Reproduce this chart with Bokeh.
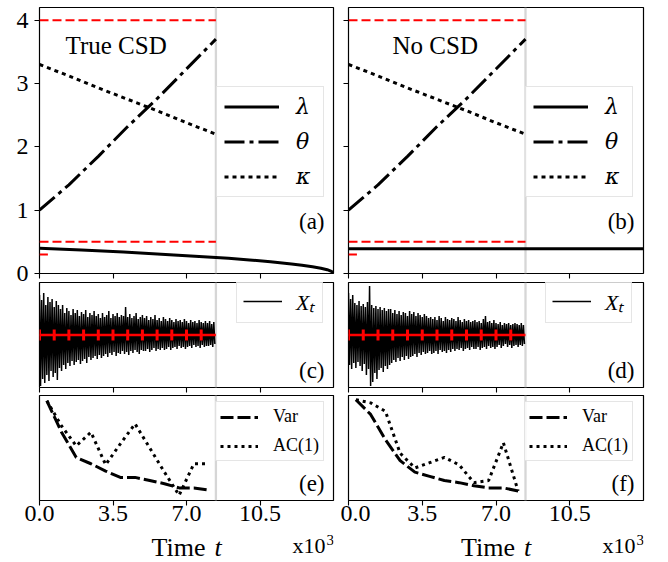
import math
from bokeh.plotting import figure
from bokeh.models import (Range1d, FixedTicker, PrintfTickFormatter, Span, Label,
                          CustomLabelingPolicy)
from bokeh.layouts import gridplot
from bokeh.embed import file_html
from bokeh.resources import INLINE

FONT = "Liberation Serif"
GREEK_FONT = "DejaVu Serif"

# ---------------- data ----------------
x_ticks = [0.0, 3.5, 7.0, 10.5]
x_tick_fmt = "%.1f"
y_ticks_top = [0, 1, 2, 3, 4]
cutoff_t = 8.4          # end of observed series (x10^3)
t_max = 14.0
x_label_word = "Time"
x_label_sym = "t"
x_scale_base = "x10"
x_scale_exp = "3"

panel_titles = ["True CSD", "No CSD"]
panel_tags = ["(a)", "(b)", "(c)", "(d)", "(e)", "(f)"]

# parameter trajectories (top row)
param_t = [0.0, 1.4, 2.8, 4.2, 5.6, 7.0, 8.4]
theta = [1.00, 1.40, 1.85, 2.32, 2.76, 3.23, 3.70]
kappa = [3.30, 3.12, 2.93, 2.75, 2.57, 2.38, 2.20]
lam_t_a = [0.0, 2.0, 4.0, 6.0, 8.0, 9.0, 10.0, 11.0, 12.0, 12.5, 13.0, 13.4, 13.7, 13.9, 14.0]
lam_a = [0.40, 0.37, 0.34, 0.30, 0.26, 0.24, 0.215, 0.185, 0.15, 0.13, 0.105, 0.083, 0.06, 0.035, 0.0]
lam_t_b = [0.0, 14.0]
lam_b = [0.39, 0.39]
bound_t = [0.0, 8.4]
bound_hi = [4.0, 4.0]
bound_lo = [0.5, 0.5]
short_t = [0.0, 0.4]
short_y = [0.3, 0.3]

# observed series X_t (upper / lower excursions per 0.1 x10^3)
xt_up_c = [0.80,0.70,0.84,0.60,0.76,0.66,0.72,0.56,0.68,0.60,
           0.52,0.60,0.44,0.54,0.48,0.40,0.52,0.44,0.50,0.38,
           0.46,0.42,0.50,0.36,0.44,0.40,0.48,0.38,0.42,0.34,
           0.44,0.36,0.40,0.48,0.34,0.42,0.38,0.44,0.36,0.40,
           0.38,0.56,0.36,0.42,0.34,0.38,0.44,0.32,0.36,0.40,
           0.34,0.38,0.30,0.36,0.32,0.40,0.30,0.34,0.28,0.36,
           0.32,0.28,0.34,0.30,0.26,0.32,0.28,0.30,0.26,0.32,
           0.28,0.24,0.30,0.26,0.28,0.24,0.30,0.26,0.24,0.28,
           0.24,0.28,0.22,0.26]
xt_lo_c = [-1.02,-0.88,-0.96,-0.80,-0.92,-0.72,-0.84,-0.76,-0.90,-0.66,
           -0.72,-0.60,-0.68,-0.56,-0.62,-0.52,-0.60,-0.54,-0.50,-0.58,
           -0.52,-0.48,-0.56,-0.44,-0.50,-0.46,-0.42,-0.48,-0.40,-0.46,
           -0.42,-0.38,-0.44,-0.36,-0.40,-0.34,-0.42,-0.36,-0.38,-0.32,
           -0.38,-0.34,-0.40,-0.32,-0.36,-0.30,-0.34,-0.38,-0.30,-0.32,
           -0.32,-0.28,-0.34,-0.30,-0.26,-0.32,-0.28,-0.30,-0.26,-0.30,
           -0.28,-0.24,-0.30,-0.26,-0.24,-0.28,-0.22,-0.26,-0.24,-0.28,
           -0.24,-0.22,-0.26,-0.20,-0.24,-0.22,-0.26,-0.20,-0.24,-0.22,
           -0.22,-0.20,-0.24,-0.18]
xt_up_d = [0.84,0.72,0.80,0.64,0.60,0.68,0.58,0.62,0.56,0.66,
           0.98,0.60,0.54,0.58,0.52,0.56,0.50,0.54,0.48,0.52,
           0.52,0.44,0.50,0.42,0.48,0.40,0.46,0.44,0.38,0.48,
           0.42,0.46,0.38,0.44,0.40,0.36,0.42,0.38,0.34,0.36,
           0.32,0.36,0.30,0.38,0.34,0.28,0.36,0.32,0.30,0.34,
           0.32,0.28,0.36,0.30,0.26,0.32,0.28,0.30,0.26,0.28,
           0.30,0.26,0.28,0.24,0.32,0.38,0.26,0.28,0.24,0.30,
           0.24,0.22,0.26,0.20,0.24,0.22,0.24,0.20,0.22,0.24,
           0.22,0.20,0.24,0.20]
xt_lo_d = [-0.60,-0.68,-0.56,-0.66,-0.54,-0.62,-0.72,-0.58,-0.80,-0.68,
           -1.02,-0.94,-0.76,-0.88,-0.70,-0.66,-0.74,-0.62,-0.68,-0.60,
           -0.56,-0.50,-0.54,-0.46,-0.52,-0.44,-0.50,-0.42,-0.48,-0.44,
           -0.42,-0.38,-0.44,-0.36,-0.40,-0.34,-0.38,-0.36,-0.32,-0.38,
           -0.36,-0.32,-0.38,-0.30,-0.34,-0.32,-0.36,-0.30,-0.34,-0.28,
           -0.32,-0.28,-0.30,-0.26,-0.32,-0.28,-0.26,-0.30,-0.24,-0.28,
           -0.28,-0.24,-0.30,-0.26,-0.24,-0.28,-0.22,-0.26,-0.24,-0.28,
           -0.24,-0.20,-0.26,-0.22,-0.18,-0.24,-0.20,-0.26,-0.22,-0.20,
           -0.24,-0.20,-0.22,-0.18]
xt_step = 0.1
mean_t = [0.0, 8.4]
mean_level = [0.0, 0.0]
window_edges = [0.0, 0.7, 1.4, 2.1, 2.8, 3.5, 4.2, 4.9, 5.6, 6.3, 7.0, 7.7]

# rolling indicators (bottom row), window centres
win_t = [0.35, 1.05, 1.75, 2.45, 3.15, 3.85, 4.55, 5.25, 5.95, 6.65, 7.35, 8.05]
var_e = [0.95, 0.65, 0.41, 0.35, 0.28, 0.22, 0.22, 0.19, 0.16, 0.12, 0.12, 0.10]
ac_e = [0.95, 0.71, 0.52, 0.65, 0.34, 0.54, 0.73, 0.50, 0.27, 0.05, 0.35, 0.35]
var_f = [0.96, 0.82, 0.58, 0.38, 0.27, 0.23, 0.19, 0.17, 0.14, 0.12, 0.12, 0.09]
ac_f = [0.96, 0.93, 0.85, 0.45, 0.31, 0.36, 0.41, 0.34, 0.17, 0.19, 0.55, 0.09]


def interleave(up, lo, step):
    ts, vs = [], []
    for i, (u, l) in enumerate(zip(up, lo)):
        ts += [i * step, i * step + step / 2]
        vs += [u, l]
    return ts, vs


# ---------------- layout helpers ----------------
COLS = [dict(width=340, min_border_left=39, min_border_right=7),
        dict(width=327, min_border_left=8, min_border_right=24)]
ROWS = [dict(height=282, min_border_top=7, min_border_bottom=9),
        dict(height=113, min_border_top=0, min_border_bottom=8),
        dict(height=137, min_border_top=0, min_border_bottom=32),
        dict(height=29, min_border_top=0, min_border_bottom=0)]

NO_LABELS = CustomLabelingPolicy(code="for (const i of indices) indices.unset(i); return indices")


def frame_w(col):
    k = COLS[col]
    return k["width"] - k["min_border_left"] - k["min_border_right"]


def base_fig(col, row, yr):
    kw = dict(COLS[col])
    kw.update(ROWS[row])
    p = figure(x_range=Range1d(0, t_max), y_range=Range1d(*yr),
               output_backend="svg", toolbar_location=None, title=None, **kw)
    p.xgrid.visible = False
    p.ygrid.visible = False
    p.background_fill_color = "white"
    p.border_fill_color = "white"
    return p


def make_fig(col, row, yr, show_xlabels=False, yaxis_mode="none"):
    p = base_fig(col, row, yr)
    p.outline_line_color = "black"
    p.outline_line_width = 1.2
    xa = p.xaxis[0]
    xa.ticker = FixedTicker(ticks=x_ticks)
    xa.formatter = PrintfTickFormatter(format=x_tick_fmt)
    xa.axis_line_color = None
    xa.major_tick_out = 5
    xa.major_tick_in = 0
    xa.minor_tick_out = 0
    xa.minor_tick_in = 0
    xa.major_tick_line_color = "black"
    xa.major_tick_line_width = 1.1
    xa.major_label_text_font = FONT
    xa.major_label_text_color = "black"
    if show_xlabels:
        xa.major_label_text_font_size = "24px"
        xa.major_label_standoff = 0
    else:
        xa.major_label_text_font_size = "0px"
        xa.major_label_standoff = 0
        xa.major_label_policy = NO_LABELS
    ya = p.yaxis[0]
    if yaxis_mode == "none":
        ya.visible = False
    else:
        ya.ticker = FixedTicker(ticks=y_ticks_top)
        ya.axis_line_color = None
        ya.major_tick_out = 5
        ya.major_tick_in = 0
        ya.minor_tick_out = 0
        ya.minor_tick_in = 0
        ya.major_tick_line_color = "black"
        ya.major_tick_line_width = 1.1
        ya.major_label_text_font = FONT
        ya.major_label_text_color = "black"
        if yaxis_mode == "labels":
            ya.major_label_text_font_size = "24px"
            ya.major_label_standoff = 6
        else:
            ya.major_label_text_font_size = "0px"
            ya.major_label_standoff = 0
            ya.major_label_policy = NO_LABELS
    p.add_layout(Span(location=cutoff_t, dimension="height", line_color="#d6d6d6",
                      line_width=2.3, level="underlay"))
    return p


def text(p, x, y, s, size, align="left", style="normal", font=FONT):
    p.add_layout(Label(x=x, y=y, x_units="screen", y_units="screen", text=s,
                       text_font=font, text_font_size=size, text_font_style=style,
                       text_align=align, text_baseline="alphabetic", text_color="black"))


def style_legend(p, loc, size, gw, gh, lh, standoff, spacing, padding, italic, font=FONT):
    lg = p.legend[0]
    lg.location = loc
    lg.label_text_font = font
    lg.label_text_font_size = size
    lg.label_text_font_style = "italic" if italic else "normal"
    lg.label_text_color = "black"
    lg.glyph_width = gw
    lg.glyph_height = gh
    lg.label_height = lh
    lg.label_standoff = standoff
    lg.spacing = spacing
    lg.padding = padding
    lg.margin = 0
    lg.border_line_color = "#cccccc"
    lg.border_line_width = 1
    lg.background_fill_alpha = 0.8


# ---------------- top row ----------------
tops = []
for col, (lt, lv) in enumerate([(lam_t_a, lam_a), (lam_t_b, lam_b)]):
    p = make_fig(col, 0, (0, 4.2), yaxis_mode="labels" if col == 0 else "ticks")
    p.line(bound_t, bound_hi, line_color="red", line_width=2, line_dash="9 4")
    p.line(bound_t, bound_lo, line_color="red", line_width=2, line_dash="9 4")
    p.line(short_t, short_y, line_color="red", line_width=2, line_dash="9 4")
    p.line(lt, lv, line_color="black", line_width=3, legend_label="λ")
    p.line(param_t, theta, line_color="black", line_width=3, line_dash="20 5 4 5",
           legend_label="θ")
    p.line(param_t, kappa, line_color="black", line_width=3, line_dash="4 4",
           legend_label="κ")
    style_legend(p, (177, 76), "22px", 55, 25, 25, 17, 10, 7, True, GREEK_FONT)
    text(p, 26 if col == 0 else 44, 228, panel_titles[col], "25px")
    text(p, frame_w(col) - 9, 52, panel_tags[col], "23px", align="right")
    tops.append(p)

# ---------------- middle row ----------------
mids = []
for col, (up, lo) in enumerate([(xt_up_c, xt_lo_c), (xt_up_d, xt_lo_d)]):
    p = make_fig(col, 1, (-1.05, 1.05))
    ts, vs = interleave(up, lo, xt_step)
    p.line(ts, vs, line_color="black", line_width=1.5, legend_label="Xₜ")
    p.line(mean_t, mean_level, line_color="red", line_width=2.5)
    p.scatter(window_edges, [mean_level[0]] * len(window_edges), marker="dash",
              angle=math.pi / 2, size=11, line_color="red", line_width=3)
    style_legend(p, (197, 64), "22px", 39, 20, 20, 14, 0, 6, True)
    text(p, frame_w(col) - 9, 17, panel_tags[2 + col], "23px", align="right")
    mids.append(p)

# ---------------- bottom row ----------------
bots = []
for col, (vv, aa) in enumerate([(var_e, ac_e), (var_f, ac_f)]):
    p = make_fig(col, 2, (0, 1), show_xlabels=True)
    p.line(win_t, vv, line_color="black", line_width=3, line_dash="13 4", legend_label="Var")
    p.line(win_t, aa, line_color="black", line_width=3, line_dash="3 4", legend_label="AC(1)")
    style_legend(p, (176, 39), "18px", 38, 20, 20, 15, 8, 4, False)
    text(p, frame_w(col) - 9, 17, panel_tags[4 + col], "23px", align="right")
    bots.append(p)

# ---------------- axis-title strip (frames align with the columns above) ----------------
strip = []
for col in range(2):
    p = base_fig(col, 3, (0, 1))
    p.xaxis.visible = False
    p.yaxis.visible = False
    p.outline_line_color = None
    fw = frame_w(col)
    mid = fw / 2
    text(p, mid + 19, 14, x_label_word, "26px", align="right")
    text(p, mid + 28, 14, x_label_sym, "26px", style="italic")
    text(p, fw - 8, 16, x_scale_base, "22px", align="right")
    text(p, fw - 7, 22, x_scale_exp, "15px")
    strip.append(p)

grid = gridplot([tops, mids, bots, strip], toolbar_location=None)
open("out.html", "w").write(file_html(grid, INLINE))
